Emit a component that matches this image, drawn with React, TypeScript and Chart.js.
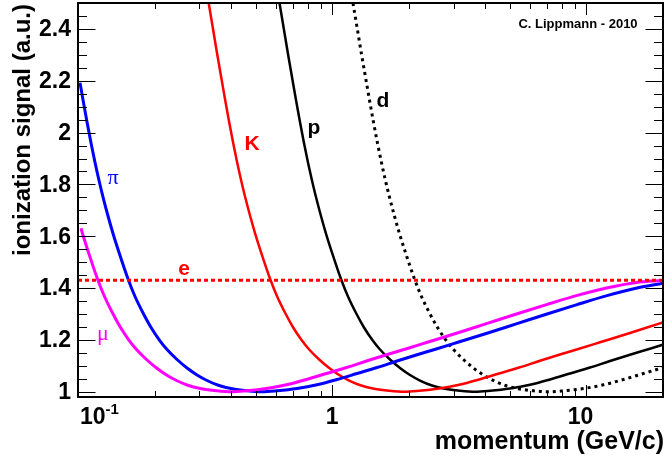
import React, { useEffect, useRef } from "react";
import { Chart, registerables } from "chart.js";

Chart.register(...registerables);

// ---- data (momentum in GeV/c, ionization signal in a.u.) ----
const eP = [0.1, 20];
const eS = [1.43, 1.43];

const muP = [0.10275, 0.10415, 0.10998, 0.11932, 0.12712, 0.13673, 0.14698, 0.15802, 0.16988, 0.18595, 0.20365, 0.22292, 0.24402, 0.2721, 0.30605, 0.35052, 0.40155, 0.46001, 0.55139, 0.66095, 0.79211, 0.94931, 1.1379, 1.364, 1.6349, 1.9593, 2.3488, 3.0818, 4.0429, 5.306, 6.9626, 9.135, 11.989, 15.729, 20];
const muS = [1.631, 1.6107, 1.5374, 1.4352, 1.3677, 1.304, 1.2481, 1.2018, 1.1632, 1.1246, 1.0918, 1.0648, 1.0436, 1.0243, 1.0116, 1.0039, 1.0, 1.0039, 1.0127, 1.027, 1.0475, 1.0706, 1.0937, 1.1188, 1.1431, 1.1663, 1.1902, 1.2261, 1.2631, 1.3002, 1.3364, 1.3711, 1.4005, 1.4217, 1.4292];

const piP = [0.10183, 0.10466, 0.10851, 0.11252, 0.11666, 0.12097, 0.12543, 0.13124, 0.13731, 0.145, 0.15732, 0.1676, 0.18027, 0.19378, 0.20835, 0.22398, 0.24517, 0.26851, 0.29391, 0.32172, 0.35875, 0.40351, 0.46215, 0.52943, 0.60651, 0.72698, 0.87143, 1.0444, 1.2516, 1.5003, 1.7983, 2.1555, 2.5832, 3.0968, 4.0632, 5.3303, 6.9957, 9.1799, 12.044, 15.806, 20];
const piS = [2.1923, 2.1258, 2.0409, 1.9599, 1.8846, 1.8152, 1.7515, 1.6782, 1.6107, 1.5374, 1.4352, 1.3677, 1.304, 1.2481, 1.2018, 1.1632, 1.1246, 1.0918, 1.0648, 1.0436, 1.0243, 1.0116, 1.0039, 1.0, 1.0039, 1.0127, 1.027, 1.0475, 1.0706, 1.0937, 1.1188, 1.1431, 1.1663, 1.1902, 1.2261, 1.2631, 1.3002, 1.3364, 1.3711, 1.4005, 1.419];

const kP = [0.3266, 0.3402, 0.3527, 0.3657, 0.3792, 0.3931, 0.4077, 0.4227, 0.4383, 0.4544, 0.4755, 0.4975, 0.5253, 0.57, 0.6072, 0.6531, 0.7021, 0.7548, 0.8115, 0.8883, 0.9728, 1.0648, 1.1656, 1.2998, 1.4619, 1.6744, 1.9181, 2.1974, 2.6339, 3.1572, 3.7837, 4.5347, 5.4356, 6.5154, 7.8096, 9.359, 11.221, 14.726, 19.31, 20];
const kS = [2.5, 2.396, 2.303, 2.2145, 2.1258, 2.0409, 1.9599, 1.8846, 1.8152, 1.7515, 1.6782, 1.6107, 1.5374, 1.4352, 1.3677, 1.304, 1.2481, 1.2018, 1.1632, 1.1246, 1.0918, 1.0648, 1.0436, 1.0243, 1.0116, 1.0039, 1.0, 1.0039, 1.0127, 1.027, 1.0475, 1.0706, 1.0937, 1.1188, 1.1431, 1.1663, 1.1902, 1.2261, 1.2631, 1.2678];

const pP = [0.6203, 0.6461, 0.6699, 0.6946, 0.7202, 0.7467, 0.7743, 0.8028, 0.8324, 0.8631, 0.9031, 0.9449, 0.9978, 1.0826, 1.1533, 1.2405, 1.3335, 1.4337, 1.5413, 1.6871, 1.8477, 2.0225, 2.2139, 2.4687, 2.7767, 3.1802, 3.6432, 4.1736, 5.0026, 5.9966, 7.1866, 8.6129, 10.324, 12.375, 14.833, 17.776, 20];
const pS = [2.5, 2.396, 2.303, 2.2145, 2.1258, 2.0409, 1.9599, 1.8846, 1.8152, 1.7515, 1.6782, 1.6107, 1.5374, 1.4352, 1.3677, 1.304, 1.2481, 1.2018, 1.1632, 1.1246, 1.0918, 1.0648, 1.0436, 1.0243, 1.0116, 1.0039, 1.0, 1.0039, 1.0127, 1.027, 1.0475, 1.0706, 1.0937, 1.1188, 1.1431, 1.1663, 1.1817];

const dP = [1.2067, 1.2569, 1.3032, 1.3513, 1.4011, 1.4526, 1.5063, 1.5618, 1.6193, 1.6791, 1.7569, 1.8382, 1.9411, 2.1061, 2.2437, 2.4133, 2.5942, 2.7891, 2.9984, 3.2821, 3.5945, 3.9346, 4.3069, 4.8026, 5.4018, 6.1868, 7.0875, 8.1193, 9.7321, 11.666, 13.981, 16.756, 20];
const dS = [2.5, 2.396, 2.303, 2.2145, 2.1258, 2.0409, 1.9599, 1.8846, 1.8152, 1.7515, 1.6782, 1.6107, 1.5374, 1.4352, 1.3677, 1.304, 1.2481, 1.2018, 1.1632, 1.1246, 1.0918, 1.0648, 1.0436, 1.0243, 1.0116, 1.0039, 1.0, 1.0039, 1.0127, 1.027, 1.0475, 1.0706, 1.0932];

// ---- axes ----
const yMajor = [1, 1.2, 1.4, 1.6, 1.8, 2, 2.2, 2.4];
const yLabels = ["1", "1.2", "1.4", "1.6", "1.8", "2", "2.2", "2.4"];
const yMinorStep = 0.05;
const xMajor = [0.1, 1, 10];
const xLabels = ["10", "1", "10"];
const xMinor = [0.2, 0.3, 0.4, 0.5, 0.6, 0.7, 0.8, 0.9, 2, 3, 4, 5, 6, 7, 8, 9];

const toXY = (p: number[], s: number[]) => p.map((x, i) => ({ x, y: s[i] }));

export default function App() {
  const ref = useRef<HTMLCanvasElement>(null);

  useEffect(() => {
    document.body.style.margin = "0";
    const canvas = ref.current;
    if (!canvas) return;

    const overlay = {
      id: "rootOverlay",
      afterDatasetsDraw(chart: any) {
        const c: CanvasRenderingContext2D = chart.ctx;
        const xs = chart.scales.x;
        const ys = chart.scales.y;
        const a = chart.chartArea;
        c.save();
        c.strokeStyle = "#000";
        c.lineWidth = 1;
        const yMajL = 17.5, yMinL = 9, xMajL = 12, xMinL = 6;
        const hLine = (py: number, len: number) => {
          const y = Math.round(py) + 0.5;
          c.beginPath();
          c.moveTo(a.left, y); c.lineTo(a.left + len, y);
          c.moveTo(a.right, y); c.lineTo(a.right - len, y);
          c.stroke();
        };
        const vLine = (px: number, len: number) => {
          const x = Math.round(px) + 0.5;
          c.beginPath();
          c.moveTo(x, a.bottom); c.lineTo(x, a.bottom - len);
          c.moveTo(x, a.top); c.lineTo(x, a.top + len);
          c.stroke();
        };
        yMajor.forEach((v) => hLine(ys.getPixelForValue(v), yMajL));
        for (let v = 1.0; v <= 2.5001; v += yMinorStep) {
          const r = Math.round(v * 100) / 100;
          if (yMajor.some((m) => Math.abs(m - r) < 1e-6)) continue;
          hLine(ys.getPixelForValue(r), yMinL);
        }
        xMajor.forEach((v) => vLine(xs.getPixelForValue(v), xMajL));
        xMinor.forEach((v) => vLine(xs.getPixelForValue(v), xMinL));

        // frame
        c.lineWidth = 2;
        c.strokeRect(a.left, a.top, a.right - a.left, a.bottom - a.top);

        // y tick labels
        c.fillStyle = "#000";
        c.font = "bold 23px 'Liberation Sans', Arial, sans-serif";
        c.textAlign = "right";
        c.textBaseline = "middle";
        yMajor.forEach((v, i) => c.fillText(yLabels[i], a.left - 7, ys.getPixelForValue(v) + 1));

        // x tick labels
        c.textBaseline = "alphabetic";
        const xb = a.bottom + 27;
        xMajor.forEach((v, i) => {
          const px = xs.getPixelForValue(v);
          if (i === 0) {
            c.textAlign = "left";
            c.font = "bold 23px 'Liberation Sans', Arial, sans-serif";
            c.fillText(xLabels[i], px + 2, xb);
            const w = c.measureText(xLabels[i]).width;
            c.font = "bold 15px 'Liberation Sans', Arial, sans-serif";
            c.fillText("-1", px + 2 + w, xb - 10);
          } else {
            c.textAlign = "center";
            c.font = "bold 23px 'Liberation Sans', Arial, sans-serif";
            c.fillText(xLabels[i], px - (i === 2 ? 6 : 0), xb);
          }
        });

        // axis titles
        c.font = "bold 25px 'Liberation Sans', Arial, sans-serif";
        c.textAlign = "right";
        c.fillText("momentum (GeV/c)", a.right + 1, a.bottom + 52);
        c.save();
        c.translate(23, 4);
        c.rotate(-Math.PI / 2);
        c.font = "bold 24px 'Liberation Sans', Arial, sans-serif";
        c.textAlign = "right";
        c.textBaseline = "middle";
        c.fillText("ionization signal (a.u.)", 0, 0);
        c.restore();

        // particle labels
        c.textAlign = "center";
        c.textBaseline = "middle";
        c.font = "22px 'Liberation Serif', 'DejaVu Serif', serif";
        c.fillStyle = "#0000ff";
        c.fillText("π", 113, 178);
        c.fillStyle = "#ff00ff";
        c.fillText("μ", 103, 334);
        c.font = "bold 21px 'Liberation Sans', Arial, sans-serif";
        c.fillStyle = "#ff0000";
        c.fillText("e", 184, 269);
        c.fillText("K", 252, 144);
        c.fillStyle = "#000";
        c.fillText("p", 314, 128);
        c.fillText("d", 383, 101);

        c.font = "bold 13px 'Liberation Sans', Arial, sans-serif";
        c.fillText("C. Lippmann - 2010", 578, 24);
        c.restore();
      },
    };

    const chart = new Chart(canvas, {
      type: "line",
      data: {
        datasets: [
          { label: "e", data: toXY(eP, eS), borderColor: "#ff0000", borderWidth: 3, borderDash: [4, 3] },
          { label: "mu", data: toXY(muP, muS), borderColor: "#ff00ff", borderWidth: 3 },
          { label: "pi", data: toXY(piP, piS), borderColor: "#0000ff", borderWidth: 3 },
          { label: "K", data: toXY(kP, kS), borderColor: "#ff0000", borderWidth: 2.5 },
          { label: "p", data: toXY(pP, pS), borderColor: "#000000", borderWidth: 2.5 },
          { label: "d", data: toXY(dP, dS), borderColor: "#000000", borderWidth: 3, borderDash: [3, 4] },
        ],
      },
      options: {
        animation: false,
        responsive: false,
        maintainAspectRatio: false,
        parsing: false as any,
        layout: { padding: { left: 78, top: 3, right: 3, bottom: 66 } },
        elements: {
          point: { radius: 0, hoverRadius: 0 },
          line: { cubicInterpolationMode: "monotone", fill: false, borderCapStyle: "butt" },
        },
        plugins: { legend: { display: false }, tooltip: { enabled: false }, title: { display: false } },
        events: [],
        scales: {
          x: { type: "logarithmic", min: 0.1, max: 20, display: false },
          y: { type: "linear", min: 0.98, max: 2.5, display: false },
        },
      },
      plugins: [overlay],
    });
    return () => chart.destroy();
  }, []);

  return (
    <div style={{ width: 666, height: 463, background: "#fff" }}>
      <canvas ref={ref} width={666} height={463} style={{ display: "block" }} />
    </div>
  );
}
